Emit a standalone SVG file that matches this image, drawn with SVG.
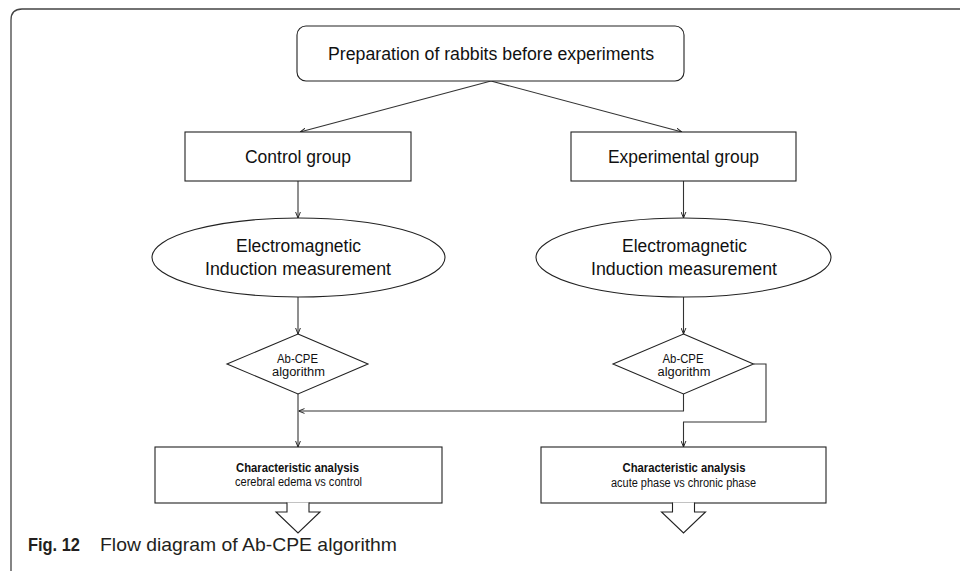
<svg xmlns="http://www.w3.org/2000/svg" width="960" height="571" viewBox="0 0 960 571">
<defs>
<marker id="arr" viewBox="0 0 10 10" refX="10" refY="5" markerWidth="6" markerHeight="6" markerUnits="userSpaceOnUse" orient="auto">
<path d="M0,1 L10,5 L0,9" fill="none" stroke="#222" stroke-width="1.6"/>
</marker>
<style>
.box{fill:#fff;stroke:#222;stroke-width:1.1}
.con{fill:none;stroke:#333;stroke-width:1.1}
.t{font-family:"Liberation Sans",Arial,sans-serif;fill:#111;text-anchor:middle}
.big{font-size:17.5px}
.sm{font-size:12px}
.bold{font-weight:bold}
.cap{font-family:"Liberation Sans",Arial,sans-serif;fill:#231f20;font-size:19px}
</style>
</defs>
<rect width="960" height="571" fill="#fff"/>
<path id="frame" d="M11,571 V20 Q11,9 22,9 H960" fill="none" stroke="#444" stroke-width="1.3"/>

<g id="connectors">
<path class="con" d="M491,81 L300,132" marker-end="url(#arr)"/>
<path class="con" d="M491,81 L682,132" marker-end="url(#arr)"/>
<path class="con" d="M298,181 V218" marker-end="url(#arr)"/>
<path class="con" d="M683.5,181 V218" marker-end="url(#arr)"/>
<path class="con" d="M298,297 V334" marker-end="url(#arr)"/>
<path class="con" d="M683.5,297 V334" marker-end="url(#arr)"/>
<path class="con" d="M298,394 V447" marker-end="url(#arr)"/>
<path class="con" d="M683.5,394 V411 H298.5" marker-end="url(#arr)"/>
<path class="con" d="M753.5,364 H766 V422 H683.5 V447" marker-end="url(#arr)"/>
</g>

<g id="prep">
<rect class="box" x="297" y="26" width="387" height="55" rx="9"/>
<text class="t big" x="491" y="60" textLength="326" lengthAdjust="spacingAndGlyphs">Preparation of rabbits before experiments</text>
</g>
<g id="control">
<rect class="box" x="185" y="132" width="226" height="49"/>
<text class="t big" x="298" y="163">Control group</text>
</g>
<g id="experimental">
<rect class="box" x="571" y="132" width="225" height="49"/>
<text class="t big" x="683.5" y="163" textLength="151" lengthAdjust="spacingAndGlyphs">Experimental group</text>
</g>
<g id="emi-left">
<ellipse class="box" cx="298.5" cy="257.5" rx="146.5" ry="39.5"/>
<text class="t big" x="298.5" y="252" textLength="125" lengthAdjust="spacingAndGlyphs">Electromagnetic</text>
<text class="t big" x="298" y="275" textLength="186" lengthAdjust="spacingAndGlyphs">Induction measurement</text>
</g>
<g id="emi-right">
<ellipse class="box" cx="683.5" cy="257.5" rx="147.5" ry="39.5"/>
<text class="t big" x="684.5" y="252" textLength="125" lengthAdjust="spacingAndGlyphs">Electromagnetic</text>
<text class="t big" x="684" y="275" textLength="186" lengthAdjust="spacingAndGlyphs">Induction measurement</text>
</g>
<g id="algo-left">
<polygon class="box" points="298,334 368,364 298,394 227,364"/>
<text class="t sm" x="297.5" y="363" textLength="41" lengthAdjust="spacingAndGlyphs">Ab-CPE</text>
<text class="t sm" x="298.5" y="376" textLength="53" lengthAdjust="spacingAndGlyphs">algorithm</text>
</g>
<g id="algo-right">
<polygon class="box" points="683.5,334 753.5,364 683.5,394 613,364"/>
<text class="t sm" x="683" y="363" textLength="41" lengthAdjust="spacingAndGlyphs">Ab-CPE</text>
<text class="t sm" x="684" y="376" textLength="53" lengthAdjust="spacingAndGlyphs">algorithm</text>
</g>
<g id="char-left">
<rect class="box" x="155" y="447" width="287" height="56"/>
<path class="box" d="M287,502.4 V512 H276 L298,533 L320,512 H309 V502.4"/>
<text class="t sm bold" x="297.5" y="472" textLength="123" lengthAdjust="spacingAndGlyphs">Characteristic analysis</text>
<text class="t sm" x="298.5" y="486" textLength="127" lengthAdjust="spacingAndGlyphs">cerebral edema vs control</text>
</g>
<g id="char-right">
<rect class="box" x="541" y="447" width="285" height="56"/>
<path class="box" d="M672.5,502.4 V512 H661.5 L683.5,533 L705.5,512 H694.5 V502.4"/>
<text class="t sm bold" x="684" y="472" textLength="123" lengthAdjust="spacingAndGlyphs">Characteristic analysis</text>
<text class="t sm" x="683.5" y="487" textLength="145" lengthAdjust="spacingAndGlyphs">acute phase vs chronic phase</text>
</g>
<g id="caption">
<text class="cap" x="28" y="551" font-weight="bold" textLength="52" lengthAdjust="spacingAndGlyphs">Fig. 12</text>
<text class="cap" x="100" y="551" textLength="297" lengthAdjust="spacingAndGlyphs">Flow diagram of Ab-CPE algorithm</text>
</g>
</svg>
